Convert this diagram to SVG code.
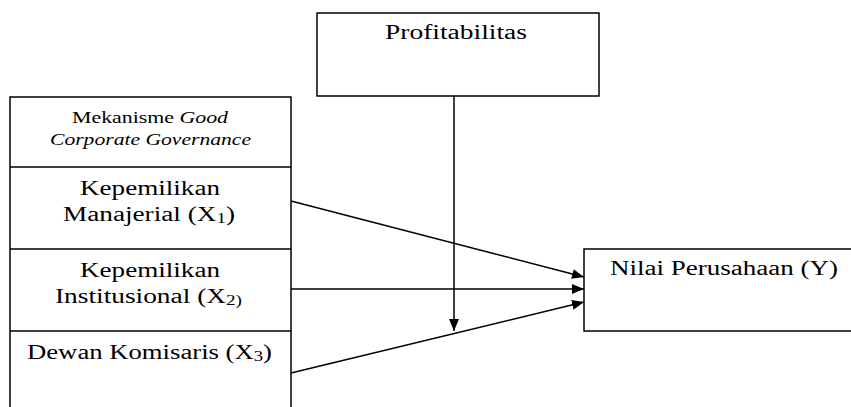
<svg xmlns="http://www.w3.org/2000/svg" width="851" height="407" viewBox="0 0 851 407">
<style>
.box{fill:#fff;stroke:#000;stroke-width:1.5}
.t{font-family:"Liberation Serif","Times New Roman",serif;fill:#000;text-anchor:start}
.m{font-size:20px}
.s{font-size:16px}
.c{stroke:#000;stroke-width:1.5;fill:none}
</style>
<defs>
<marker id="ah" markerWidth="12" markerHeight="10" refX="12" refY="5" orient="auto" markerUnits="userSpaceOnUse">
<path d="M0,0 L12,5 L0,10 Z" fill="#000"/>
</marker>
</defs>
<g id="node-gcg">
<rect class="box" x="10" y="97" width="281" height="320"/>
<line class="c" x1="10" y1="167" x2="291" y2="167"/>
<line class="c" x1="10" y1="249" x2="291" y2="249"/>
<line class="c" x1="10" y1="331" x2="291" y2="331"/>
<text class="t s" x="72" y="123" textLength="156" lengthAdjust="spacingAndGlyphs">Mekanisme <tspan font-style="italic">Good</tspan></text>
<text class="t s" x="50" y="145" textLength="201" lengthAdjust="spacingAndGlyphs" font-style="italic">Corporate Governance</text>
</g>
<g id="node-x1">
<text class="t m" x="80" y="195" textLength="140" lengthAdjust="spacingAndGlyphs">Kepemilikan</text>
<text class="t m" x="63" y="221" textLength="172" lengthAdjust="spacingAndGlyphs">Manajerial (X<tspan font-size="14" dy="2">1</tspan><tspan dy="-2">)</tspan></text>
</g>
<g id="node-x2">
<text class="t m" x="80" y="277" textLength="140" lengthAdjust="spacingAndGlyphs">Kepemilikan</text>
<text class="t m" x="55" y="303" textLength="187" lengthAdjust="spacingAndGlyphs">Institusional (X<tspan font-size="14" dy="2">2)</tspan></text>
</g>
<g id="node-x3">
<text class="t m" x="27" y="359" textLength="245" lengthAdjust="spacingAndGlyphs">Dewan Komisaris (X<tspan font-size="14" dy="2">3</tspan><tspan dy="-2">)</tspan></text>
</g>
<g id="node-profit">
<rect class="box" x="317" y="13" width="282" height="83"/>
<text class="t m" x="385" y="39" textLength="142" lengthAdjust="spacingAndGlyphs">Profitabilitas</text>
</g>
<g id="node-y">
<rect class="box" x="584" y="249" width="270" height="82"/>
<text class="t m" x="610" y="275" textLength="228" lengthAdjust="spacingAndGlyphs">Nilai Perusahaan (Y)</text>
</g>
<g id="connectors">
<line class="c" x1="291" y1="201" x2="584" y2="277" marker-end="url(#ah)"/>
<line class="c" x1="291" y1="289" x2="584" y2="289" marker-end="url(#ah)"/>
<line class="c" x1="291" y1="373" x2="584" y2="302" marker-end="url(#ah)"/>
<line class="c" x1="454" y1="96" x2="454" y2="331" marker-end="url(#ah)"/>
</g>
</svg>
